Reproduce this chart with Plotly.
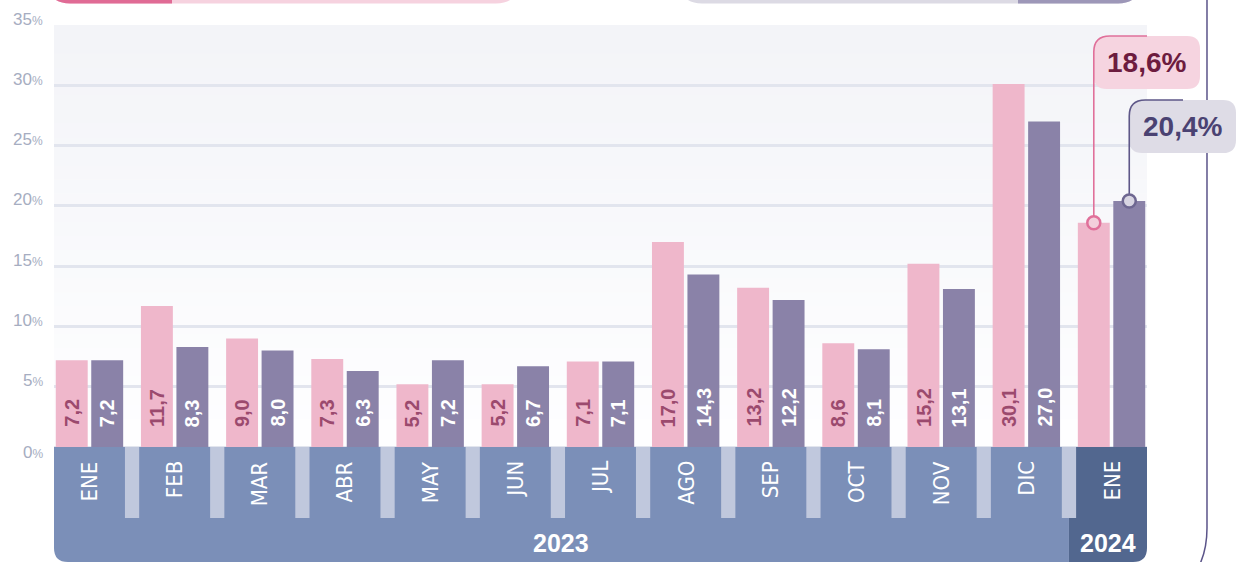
import plotly.graph_objects as go

# ---------------- data ----------------
months = ["ENE", "FEB", "MAR", "ABR", "MAY", "JUN", "JUL", "AGO", "SEP", "OCT", "NOV", "DIC", "ENE"]
years = ["2023", "2024"]
serie_rosa = [7.2, 11.7, 9.0, 7.3, 5.2, 5.2, 7.1, 17.0, 13.2, 8.6, 15.2, 30.1, 18.6]
serie_morada = [7.2, 8.3, 8.0, 6.3, 7.2, 6.7, 7.1, 14.3, 12.2, 8.1, 13.1, 27.0, 20.4]
ytick_vals = [0, 5, 10, 15, 20, 25, 30, 35]

# ---------------- geometry / style ----------------
W, H = 1236, 562
PL, PR, PT = 54, 1147, 25           # plot area in pixels
ZERO_PX = 447                        # pixel row of 0 %
YMAX = 35
PPU = (ZERO_PX - PT) / YMAX          # pixels per percent
YMIN = -(H - ZERO_PX) / PPU
BARGAP, GROUPGAP = 0.167, 0.1
HALF = (1 - BARGAP) / 2
XMIN, XMAX = -HALF, len(months) - 1 + HALF
PXU = (PR - PL) / (XMAX - XMIN)
DIV_Y = -(518 - ZERO_PX) / PPU
FONT = "Liberation Sans, Arial, sans-serif"
NARROW = "Liberation Sans Narrow, Arial Narrow, DejaVu Sans Condensed, sans-serif"

PINK, PURPLE = "#efb7cb", "#8a82a8"
BAND, BAND_DARK, DIVIDER = "#7b8fb8", "#52678f", "#c0c8dd"

x_idx = list(range(len(months)))


def fmt(v):
    return f"{v:.1f}".replace(".", ",")


def px(xp, yp):
    return f"{(xp - PL) / (PR - PL):.5f},{(H - yp) / (H - PT):.5f}"


def data_y_px(v):
    return ZERO_PX - v * PPU


def data_x_px(x):
    return PL + (x - XMIN) * PXU


def rrect(x0, y0, x1, y1, tl, tr, br, bl):
    return (f"M {px(x0 + tl, y0)} L {px(x1 - tr, y0)} Q {px(x1, y0)} {px(x1, y0 + tr)} "
            f"L {px(x1, y1 - br)} Q {px(x1, y1)} {px(x1 - br, y1)} L {px(x0 + bl, y1)} "
            f"Q {px(x0, y1)} {px(x0, y1 - bl)} L {px(x0, y0 + tl)} Q {px(x0, y0)} {px(x0 + tl, y0)} Z")


fig = go.Figure()
fig.add_trace(go.Bar(x=x_idx, y=serie_rosa, name="Serie rosa",
                     marker=dict(color=PINK, line=dict(width=0)), hoverinfo="skip"))
fig.add_trace(go.Bar(x=x_idx, y=serie_morada, name="Serie morada",
                     marker=dict(color=PURPLE, line=dict(width=0)), hoverinfo="skip"))

shapes = []
# plot background gradient
n = 30
c0, c1 = (0xf3, 0xf4, 0xf8), (0xfe, 0xfe, 0xff)
for k in range(n):
    t = k / (n - 1)
    col = tuple(round(c1[j] + (c0[j] - c1[j]) * t) for j in range(3))
    shapes.append(dict(type="rect", xref="paper", yref="y", x0=0, x1=1,
                       y0=YMAX * k / n, y1=YMAX * (k + 1) / n + 0.05,
                       fillcolor="rgb(%d,%d,%d)" % col, line=dict(width=0), layer="below"))

# month / year band
rx, ry = 14 / PXU, 14 / PPU
split = len(months) - 1.5
gap_half = (1 - 2 * HALF) / 2
shapes.append(dict(type="path", xref="x", yref="y", layer="above", fillcolor=BAND, line=dict(width=0),
                   path=(f"M {XMIN},0 L {split},0 L {split},{YMIN} L {XMIN + rx},{YMIN} "
                         f"Q {XMIN},{YMIN} {XMIN},{YMIN + ry} Z")))
shapes.append(dict(type="path", xref="x", yref="y", layer="above", fillcolor=BAND_DARK, line=dict(width=0),
                   path=(f"M {split + gap_half},0 L {XMAX},0 L {XMAX},{YMIN + ry} "
                         f"Q {XMAX},{YMIN} {XMAX - rx},{YMIN} L {split},{YMIN} L {split},{DIV_Y} "
                         f"L {split + gap_half},{DIV_Y} Z")))
for i in range(len(months) - 1):
    shapes.append(dict(type="rect", xref="x", yref="y", layer="above", x0=i + HALF, x1=i + 1 - HALF,
                       y0=DIV_Y, y1=0, fillcolor=DIVIDER, line=dict(width=0)))

# top legend pills (cut off by the frame)
shapes.append(dict(type="path", xref="paper", yref="paper", fillcolor="#f6d2df", line=dict(width=0),
                   path=rrect(48, -40, 518, 3.5, 22, 22, 22, 22)))
shapes.append(dict(type="path", xref="paper", yref="paper", fillcolor="#e06b95", line=dict(width=0),
                   path=rrect(48, -40, 172, 3.5, 22, 0, 0, 22)))
shapes.append(dict(type="path", xref="paper", yref="paper", fillcolor="#dcdae4", line=dict(width=0),
                   path=rrect(680, -40, 1140, 3.5, 22, 22, 22, 22)))
shapes.append(dict(type="path", xref="paper", yref="paper", fillcolor="#9d97b8", line=dict(width=0),
                   path=rrect(1018, -40, 1140, 3.5, 0, 22, 22, 0)))

# right frame line
shapes.append(dict(type="path", xref="paper", yref="paper", line=dict(color="#5b5489", width=1.5),
                   path=f"M {px(1207, -5)} L {px(1207, 528)} Q {px(1207, 550)} {px(1199, 566)}"))

# callouts
pink_x = data_x_px(len(months) - 1 - HALF / 2)
purple_x = data_x_px(len(months) - 1 + HALF / 2)
pink_y = data_y_px(serie_rosa[-1])
purple_y = data_y_px(serie_morada[-1])

shapes.append(dict(type="path", xref="paper", yref="paper", fillcolor="#f6d4e0", line=dict(width=0),
                   path=rrect(pink_x, 36, 1200, 89, 16, 13, 13, 13)))
shapes.append(dict(type="path", xref="paper", yref="paper", line=dict(color="#e0709a", width=1.6),
                   path=f"M {px(pink_x, pink_y)} L {px(pink_x, 52)} Q {px(pink_x, 36)} {px(pink_x + 16, 36)} L {px(1147, 36)}"))
shapes.append(dict(type="path", xref="paper", yref="paper", fillcolor="#dedce6", line=dict(width=0),
                   path=rrect(purple_x, 100, 1236, 153, 16, 13, 13, 13)))
shapes.append(dict(type="path", xref="paper", yref="paper", line=dict(color="#5e5788", width=1.6),
                   path=f"M {px(purple_x, purple_y)} L {px(purple_x, 116)} Q {px(purple_x, 100)} {px(purple_x + 16, 100)} L {px(1183, 100)}"))
for cx, cy, fc, lc in [(pink_x, pink_y, "#f3cfdc", "#e0709a"), (purple_x, purple_y, "#d8d5e2", "#6e6791")]:
    r = 6.5
    shapes.append(dict(type="circle", xref="paper", yref="paper",
                       x0=(cx - r - PL) / (PR - PL), x1=(cx + r - PL) / (PR - PL),
                       y0=(H - cy - r) / (H - PT), y1=(H - cy + r) / (H - PT),
                       fillcolor=fc, line=dict(color=lc, width=2.5)))

annotations = []
# value labels inside the bars, near the base (the last month is shown in the callouts)
for vals, off, col in [(serie_rosa, -HALF / 2, "#9b4a6e"), (serie_morada, HALF / 2, "#ffffff")]:
    for i, v in enumerate(vals[:-1]):
        annotations.append(dict(xref="x", yref="y", x=i + off, y=0, yshift=19, xanchor="center",
                                yanchor="bottom", textangle=-90, showarrow=False, text=fmt(v),
                                borderpad=0,
                                font=dict(family=FONT, size=20, color=col, weight="bold")))
# y tick labels (above the gridlines)
for v in ytick_vals:
    annotations.append(dict(xref="paper", yref="y", x=(45 - PL) / (PR - PL), y=v, xanchor="right",
                            yanchor="middle", yshift=(-5 if v == 0 else 6), showarrow=False,
                            text=f"{v}<span style='font-size:12px'>%</span>",
                            font=dict(family=FONT, size=17, color="#a6adc1")))
# month labels
for i, m in enumerate(months):
    annotations.append(dict(xref="x", yref="y", x=i, y=0, yshift=-12, xanchor="center", yanchor="top",
                            textangle=-90, showarrow=False, text=m,
                            font=dict(family=NARROW, size=22, color="#ffffff")))
# year labels
year_y = -(543 - ZERO_PX) / PPU
annotations.append(dict(xref="x", yref="y", x=(XMIN + split) / 2, y=year_y, showarrow=False,
                        xanchor="center", yanchor="middle",
                        text=years[0], font=dict(family=FONT, size=25, color="#ffffff", weight="bold")))
annotations.append(dict(xref="x", yref="y", x=(split + XMAX) / 2, y=year_y, showarrow=False,
                        xanchor="center", yanchor="middle",
                        text=years[1], font=dict(family=FONT, size=25, color="#ffffff", weight="bold")))
# callout texts
annotations.append(dict(xref="paper", yref="paper", x=((pink_x + 1200) / 2 - PL) / (PR - PL),
                        y=(H - 62.5) / (H - PT), showarrow=False, xanchor="center", yanchor="middle",
                        text=fmt(serie_rosa[-1]) + "%",
                        font=dict(family=FONT, size=28, color="#6d1c3f", weight="bold")))
annotations.append(dict(xref="paper", yref="paper", x=((purple_x + 1236) / 2 - PL) / (PR - PL),
                        y=(H - 126.5) / (H - PT), showarrow=False, xanchor="center", yanchor="middle",
                        text=fmt(serie_morada[-1]) + "%",
                        font=dict(family=FONT, size=28, color="#4a4272", weight="bold")))

fig.update_layout(
    width=W, height=H, margin=dict(l=PL, r=W - PR, t=PT, b=0, pad=0),
    paper_bgcolor="#ffffff", plot_bgcolor="#ffffff",
    barmode="group", bargap=BARGAP, bargroupgap=GROUPGAP,
    separators=",.", showlegend=False, hovermode=False,
    xaxis=dict(range=[XMIN, XMAX], showgrid=False, zeroline=False, showticklabels=False,
               showline=False, fixedrange=True),
    yaxis=dict(range=[YMIN, YMAX], tickvals=ytick_vals, showticklabels=False, showgrid=True,
               gridcolor="#e2e5ee", gridwidth=2.5, zeroline=False, showline=False, fixedrange=True),
    shapes=shapes, annotations=annotations,
    font=dict(family=FONT),
)

fig.write_html("out.html", config={"displayModeBar": False},
               post_script="document.body.style.margin='0px';document.body.style.overflow='hidden';")
